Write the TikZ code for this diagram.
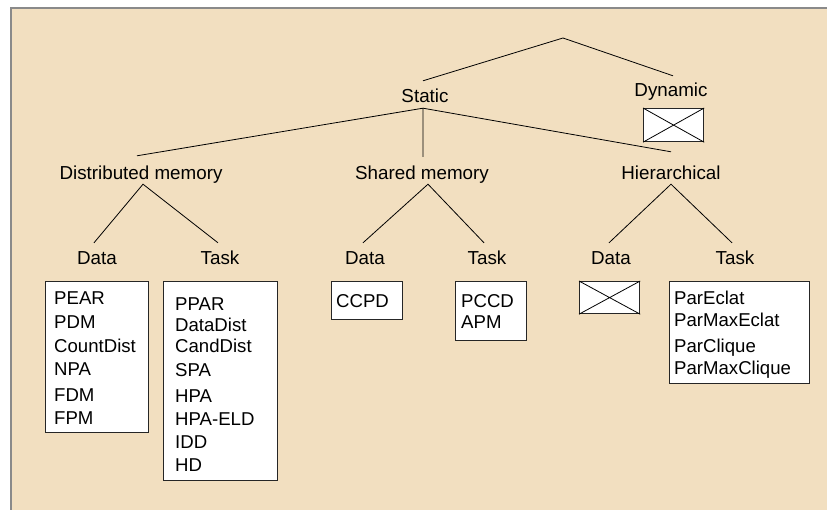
\documentclass[tikz,border=0pt]{standalone}
\usepackage{fontspec}
\setmainfont{Liberation Sans}
\definecolor{panel}{HTML}{F2DFC0}
\definecolor{edge}{HTML}{8A8A8A}
\tikzset{
  lbl/.style={inner sep=0pt, text height=14pt, text depth=4pt, font=\fontsize{18.8}{22}\selectfont},
  item/.style={inner sep=0pt, anchor=base west, font=\fontsize{18.6}{22}\selectfont},
  listbox/.style={draw=black!85, line width=1.2pt, fill=white, anchor=north west, inner sep=0pt},
  branch/.style={line width=0.8pt, black}
}
\begin{document}
\begin{tikzpicture}[x=1pt,y=-1pt]
\useasboundingbox (0,0) rectangle (827,510);
\fill[white] (0,0) rectangle (827,510);
\fill[panel] (11,8) rectangle (827,510);
\draw[edge, line width=1.5pt] (11,510) -- (11,8) -- (827,8);

% labels
\coordinate (root) at (563,38);
\node[lbl, anchor=base] (static) at (425,103) {Static};
\node[lbl, anchor=base] (dynamic) at (671,97) {Dynamic};
\node[lbl, anchor=base] (dist) at (141,180) {Distributed memory};
\node[lbl, anchor=base] (shared) at (422,180) {Shared memory};
\node[lbl, anchor=base] (hier) at (671,180) {Hierarchical};
\node[lbl, anchor=base] (d1) at (97,265) {Data};
\node[lbl, anchor=base] (t1) at (220,265) {Task};
\node[lbl, anchor=base] (d2) at (365,265) {Data};
\node[lbl, anchor=base] (t2) at (487,265) {Task};
\node[lbl, anchor=base] (d3) at (611,265) {Data};
\node[lbl, anchor=base] (t3) at (735,265) {Task};

% connectors
\draw[branch] ([xshift=-2pt,yshift=8pt]static.north) -- (root) -- ([xshift=2pt,yshift=7pt]dynamic.north);
\draw[branch] ([xshift=-4pt,yshift=10pt]dist.north) -- ([xshift=-2pt,yshift=-1pt]static.south) -- ([xshift=1pt,yshift=9pt]shared.north);
\draw[branch] ([xshift=-2pt,yshift=-1pt]static.south) -- ([yshift=14pt]hier.north);
\draw[branch] ([xshift=-3pt,yshift=8pt]d1.north) -- ([xshift=2pt]dist.south) -- ([xshift=-2pt,yshift=8pt]t1.north);
\draw[branch] ([xshift=-2pt,yshift=8pt]d2.north) -- ([xshift=6pt]shared.south) -- ([xshift=-3pt,yshift=8pt]t2.north);
\draw[branch] ([xshift=-2pt,yshift=8pt]d3.north) -- (hier.south) -- ([xshift=-3pt,yshift=8pt]t3.north);

% boxes
\node[listbox, minimum width=60pt, minimum height=33pt] (dynbox) at (643,108) {};
\draw[branch] (dynbox.north west) -- (dynbox.south east) (dynbox.north east) -- (dynbox.south west);

\node[listbox, minimum width=103pt, minimum height=151pt] (b1) at (45,281) {};
\node[listbox, minimum width=114pt, minimum height=199pt] (b2) at (163,281) {};
\node[listbox, minimum width=71pt, minimum height=38pt] (b3) at (331,281) {};
\node[listbox, minimum width=71pt, minimum height=59pt] (b4) at (455,281) {};
\node[listbox, minimum width=60pt, minimum height=32pt] (b5) at (579,281) {};
\node[listbox, minimum width=140pt, minimum height=102pt] (b6) at (669,281) {};
\draw[branch] (b5.north west) -- (b5.south east) (b5.north east) -- (b5.south west);

% list texts
\foreach \t/\y [count=\i] in {PEAR/305, PDM/329, CountDist/353, NPA/376, FDM/401, FPM/424}
  \node[item] (l1-\i) at (54,\y) {\t};
\foreach \t/\y [count=\i] in {PPAR/311, DataDist/332, CandDist/353, SPA/377, HPA/402, HPA-ELD/425, IDD/448, HD/471}
  \node[item] (l2-\i) at (175,\y) {\t};
\node[item] (l3-1) at (336,308) {CCPD};
\foreach \t/\y [count=\i] in {PCCD/308, APM/329}
  \node[item] (l4-\i) at (461,\y) {\t};
\foreach \t/\y [count=\i] in {ParEclat/305, ParMaxEclat/327, ParClique/353, ParMaxClique/374}
  \node[item] (l6-\i) at (674,\y) {\t};
\end{tikzpicture}
\end{document}
